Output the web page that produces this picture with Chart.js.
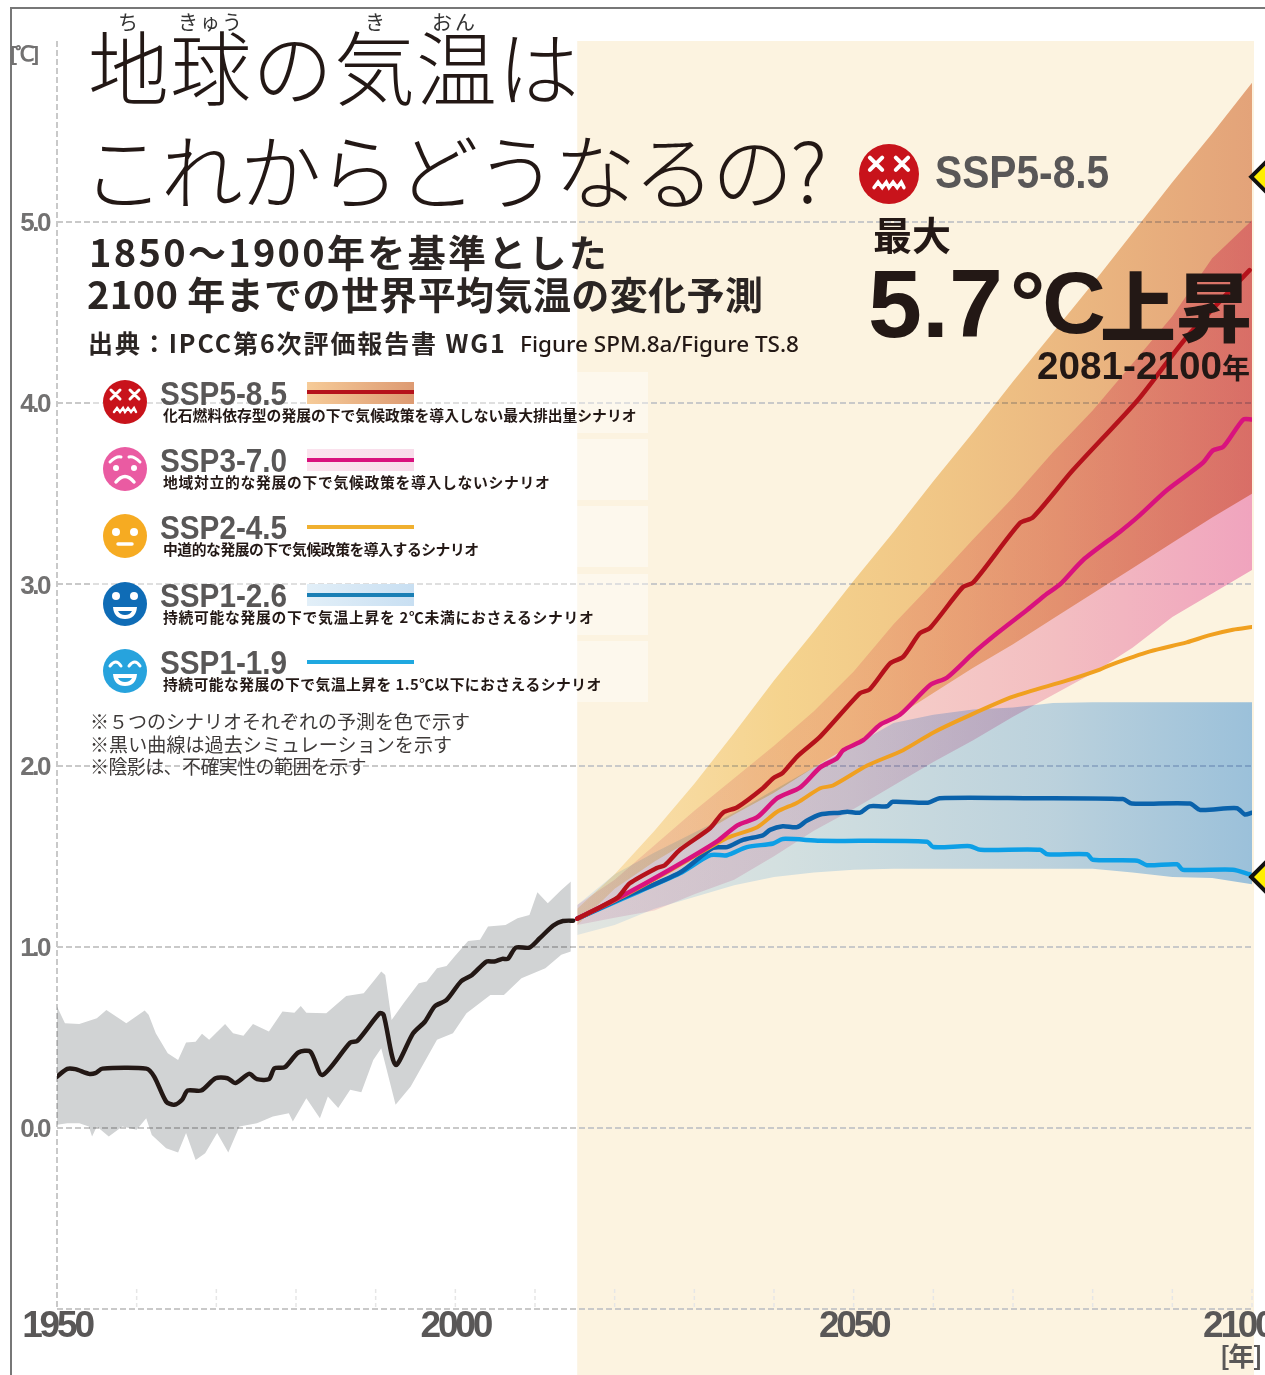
<!DOCTYPE html>
<html lang="ja">
<head>
<meta charset="utf-8">
<title>地球の気温はこれからどうなるの?</title>
<script src="https://cdn.jsdelivr.net/npm/chart.js@4/dist/chart.umd.min.js"></script>
<style>
html,body{margin:0;padding:0;background:#fff;width:1265px;height:1375px;overflow:hidden}
#wrap{position:relative;width:1265px;height:1375px;overflow:hidden}
canvas{position:absolute;left:0;top:0}
#frameT{position:absolute;left:10px;top:7px;width:1255px;height:2px;background:#777}
#frameL{position:absolute;left:10px;top:7px;width:2px;height:1368px;background:#777}
.t{position:absolute;white-space:nowrap;line-height:1;font-family:"Noto Sans CJK JP","Noto Sans",sans-serif;color:#231815}
.n{font-family:"Liberation Sans",sans-serif;font-weight:700;color:#595757;transform-origin:left center}
.panel{position:absolute;left:90px;width:558px;height:61px;background:rgba(255,255,255,.42)}
.swatch{position:absolute;left:307px;width:107px}
.ico{position:absolute}
</style>
</head>
<body>
<div id="wrap">
<canvas id="c" width="1265" height="1375"></canvas>
<div id="frameT"></div><div id="frameL"></div>
<div id="overlay"></div>
</div>
<script>
// ---- axes ----
const yMin = -1, yMax = 6, yStep = 1;
const xMin = 1950, xMax = 2100;
const xTickValues = [1950, 2000, 2050, 2100];
const xMinorTicks = [1960,1970,1980,1990,2000,2010,2020,2030,2040,2050,2060,2070,2080,2090,2100];
const futureStart = 2015.3;

// ---- historical simulation ----
const histYears = [1950,1951.3,1952.3,1954,1954.8,1955.7,1961.2,1962.2,1963.7,1964.7,1965.7,1966.4,1968.1,1969.9,1971.4,1972.4,1974.1,1975.1,1976.6,1977.3,1978.6,1980.3,1981.8,1983.3,1986.8,1987.7,1990.5,1991,1992.5,1994.7,1996.2,1997.4,1998.9,2000.7,2002.1,2003.9,2004.9,2005.9,2006.6,2007.6,2009.3,2010.6,2012.3,2013.5,2014.8];
const histValues = [.283,.326,.324,.298,.302,.327,.327,.283,.145,.127,.155,.206,.206,.274,.274,.247,.298,.269,.269,.329,.335,.416,.421,.292,.471,.48,.633,.624,.348,.522,.587,.67,.706,.808,.844,.918,.918,.933,.933,.995,.995,1.047,1.117,1.142,1.144];
const histUpperYears = [1950,1951,1952.8,1955,1956.2,1958.7,1961,1961.5,1962.4,1963.9,1965.2,1966.2,1967.4,1968.2,1969.1,1971.1,1972.1,1973.4,1974.6,1976.6,1978.3,1979.8,1980.6,1981.3,1983.8,1986.3,1988.5,1989.7,1990.7,1991.2,1992,1993.5,1995.4,1996.4,1997.7,1998.9,1999.9,2001.6,2003.1,2004.1,2006.3,2007.8,2009.3,2010.3,2011.6,2013.3,2014.5];
const histUpper = [.67,.578,.574,.605,.651,.578,.648,.624,.522,.412,.375,.471,.476,.519,.486,.574,.522,.508,.574,.532,.642,.636,.673,.636,.633,.728,.743,.808,.863,.844,.596,.688,.798,.808,.881,.894,.946,1.032,1.038,1.111,1.12,1.157,1.175,1.30,1.24,1.313,1.36];
const histLowerYears = [1950,1951.3,1952.8,1954,1954.4,1955,1956.5,1958.2,1960,1961.2,1961.9,1963.7,1965.2,1966.2,1967.4,1968.6,1970.1,1971.5,1972.9,1975.1,1977.1,1979.1,1979.6,1981.3,1983,1984,1985.3,1986.8,1988.2,1989.7,1990.7,1992.5,1994.4,1997.7,1999.7,2001.4,2004.4,2006.1,2008.3,2011.3,2013.3,2014.5];
const histLower = [.017,.026,.026,.007,-.048,.007,-.048,.007,-.011,.053,-.039,-.112,-.136,-.029,-.177,-.14,-.029,-.136,.007,.026,.063,.081,.035,.164,.053,.173,.109,.21,.197,.375,.44,.127,.228,.486,.522,.633,.734,.734,.826,.881,.955,.973];

// ---- scenario bands ----
const bandYears = [2015.3,2020,2025,2030,2035,2040,2045,2050,2055,2060,2065,2070,2075,2080,2085,2090,2095,2100];
const ssp585Upper = [1.21,1.40,1.64,1.90,2.18,2.47,2.74,3.02,3.29,3.57,3.84,4.12,4.39,4.66,4.94,5.22,5.49,5.77];
const ssp585Lower = [1.12,1.32,1.47,1.60,1.73,1.85,1.99,2.12,2.26,2.40,2.54,2.67,2.81,2.95,3.09,3.23,3.37,3.50];
const ssp370Upper = [1.23,1.37,1.56,1.75,1.93,2.11,2.30,2.52,2.78,3.01,3.25,3.48,3.73,3.96,4.22,4.48,4.80,5.01];
const ssp370Lower = [1.12,1.16,1.20,1.29,1.37,1.50,1.64,1.76,1.89,2.02,2.14,2.27,2.39,2.51,2.65,2.82,2.95,3.08];
const ssp126Upper = [1.23,1.40,1.52,1.63,1.74,1.865,1.99,2.11,2.235,2.28,2.31,2.32,2.345,2.35,2.35,2.35,2.35,2.35];
const ssp119Lower = [1.065,1.12,1.21,1.275,1.34,1.385,1.41,1.425,1.43,1.43,1.43,1.43,1.43,1.43,1.41,1.385,1.38,1.345];

// ---- scenario median lines ----
const ssp585Years = [2015.3,2020.3,2021.9,2025.3,2026.3,2028.2,2032,2033.6,2035.4,2038.6,2039.9,2041.1,2042.9,2045.8,2050.8,2052,2054.6,2056.2,2058.3,2059.6,2063.7,2065,2070.9,2072.5,2077.5,2085.7,2091.8,2099.7];
const ssp585Values = [1.155,1.27,1.35,1.435,1.45,1.535,1.655,1.74,1.77,1.875,1.93,1.96,2.05,2.16,2.40,2.42,2.565,2.60,2.73,2.76,2.985,3.01,3.34,3.37,3.63,4.02,4.365,4.735];
const ssp370Years = [2015.3,2020.7,2026.9,2032.8,2035.4,2037.9,2040.4,2043.3,2045.8,2047.9,2048.7,2051.2,2053.3,2055.8,2059.6,2061.7,2065,2068,2071.8,2074.3,2075.9,2078.8,2083.4,2085.6,2089.3,2093.8,2095.1,2096.4,2098.9,2100];
const ssp370Values = [1.155,1.275,1.425,1.58,1.67,1.715,1.82,1.88,1.99,2.04,2.085,2.14,2.225,2.28,2.445,2.485,2.62,2.73,2.86,2.95,3.00,3.135,3.29,3.37,3.52,3.67,3.74,3.76,3.91,3.91];
const ssp245Years = [2015.3,2020.7,2026.9,2034.1,2037.9,2040.4,2042.9,2045.8,2047.4,2051.7,2056.2,2059.9,2064.2,2070,2076.8,2080.9,2082.2,2087.2,2091.8,2094.7,2097.6,2100];
const ssp245Values = [1.155,1.27,1.42,1.60,1.66,1.745,1.795,1.875,1.89,2.00,2.085,2.18,2.27,2.38,2.47,2.53,2.555,2.63,2.68,2.72,2.75,2.765];
const ssp126Years = [2015.3,2020.7,2028.2,2032.3,2034.1,2036.1,2038.6,2039.5,2041.1,2042.9,2044.1,2045.8,2048.3,2049.2,2050.8,2052,2054.2,2054.9,2059.3,2060.8,2071.8,2083.8,2084.9,2092.2,2093.5,2098.1,2099.1,2100];
const ssp126Values = [1.155,1.265,1.41,1.545,1.55,1.59,1.615,1.645,1.665,1.66,1.695,1.73,1.74,1.745,1.74,1.775,1.775,1.80,1.795,1.82,1.82,1.815,1.79,1.79,1.755,1.765,1.73,1.74];
const ssp119Years = [2015.3,2020.7,2028.2,2032,2034.1,2036.6,2039.9,2041.1,2045.8,2059.2,2060,2064.6,2065.9,2073.4,2074.3,2079.3,2080,2085.6,2086.8,2090.6,2091.3,2097.6,2099.7];
const ssp119Values = [1.155,1.26,1.405,1.505,1.505,1.55,1.57,1.595,1.585,1.58,1.55,1.555,1.535,1.535,1.51,1.51,1.48,1.475,1.45,1.455,1.425,1.425,1.40];

// ---- annotation arrows (clipped by the page edge) ----
const arrowYears = [2102.4, 2102.4];
const arrowValues = [5.25, 1.385];

const pts = (xs, ys) => xs.map((x, i) => ({x, y: ys[i]}));
const grad = (stops) => (ctx) => {
  const c = ctx.chart, s = c.scales && c.scales.x;
  const a = s ? s.getPixelForValue(futureStart) : NaN, b = s ? s.getPixelForValue(xMax) : NaN;
  if (!Number.isFinite(a) || !Number.isFinite(b)) return 'rgba(0,0,0,0)';
  const g = c.ctx.createLinearGradient(a, 0, b, 0);
  stops.forEach(([p, col]) => g.addColorStop(p, col));
  return g;
};
const lineDs = (label, xs, ys, color, w) => ({label, data: pts(xs, ys), borderColor: color, borderWidth: w,
  pointRadius: 0, tension: .25, fill: false, borderCapStyle: 'round', borderJoinStyle: 'round'});
const bandDs = (label, xs, ys, bg) => ({label, data: pts(xs, ys), borderWidth: 0, borderColor: 'rgba(0,0,0,0)',
  pointRadius: 0, tension: 0, fill: '+1', backgroundColor: bg, isBand: true});
const edgeDs = (label, xs, ys) => ({label, data: pts(xs, ys), borderWidth: 0, borderColor: 'rgba(0,0,0,0)',
  pointRadius: 0, tension: 0, fill: false, isBand: true});

const datasets = [
  {label:'arrows', data: pts(arrowYears, arrowValues), showLine:false, pointStyle:'rectRot', pointRadius:20,
   pointBackgroundColor:'#ffef00', pointBorderColor:'#111', pointBorderWidth:4, clip:false},
  lineDs('SSP5-8.5', ssp585Years, ssp585Values, '#b5121b', 4.5),
  lineDs('SSP3-7.0', ssp370Years, ssp370Values, '#d9127e', 4.5),
  lineDs('SSP2-4.5', ssp245Years, ssp245Values, '#f0a020', 4),
  lineDs('SSP1-2.6', ssp126Years, ssp126Values, '#0a62ab', 4.5),
  lineDs('SSP1-1.9', ssp119Years, ssp119Values, '#0d9fe6', 4.5),
  lineDs('過去シミュレーション', histYears, histValues, '#231815', 4.5),
  bandDs('SSP5-8.5 上限', bandYears, ssp585Upper, grad([[0,'#fdeccb'],[.3,'#f8dea2'],[.55,'#f3cf98'],[1,'#e6ab8a']])),
  edgeDs('SSP5-8.5 下限', bandYears, ssp585Lower),
  bandDs('SSP3-7.0 上限', bandYears, ssp370Upper, grad([[0,'#f6e2ee'],[.4,'#f9dbe6'],[.7,'#f6c8dc'],[1,'#f3acd8']])),
  edgeDs('SSP3-7.0 下限', bandYears, ssp370Lower),
  bandDs('SSP1 上限', bandYears, ssp126Upper, grad([[0,'#e4f0ff'],[.3,'#d6ebff'],[.7,'#bedcfb'],[1,'#9dcaf8']])),
  edgeDs('SSP1 下限', bandYears, ssp119Lower),
  bandDs('過去 上限', histUpperYears, histUpper, '#d1d3d4'),
  edgeDs('過去 下限', histLowerYears, histLower)
];

const dashColor = '#c9c9c9';
const stagePlugin = {
  id: 'stage',
  beforeDraw(chart) {
    const {ctx, scales: {x, y}} = chart;
    ctx.save();
    ctx.fillStyle = '#fcf3e0';
    const l = x.getPixelForValue(futureStart), r = x.getPixelForValue(xMax) + 2;
    ctx.fillRect(l, y.getPixelForValue(yMax), r - l, chart.height - y.getPixelForValue(yMax));
    ctx.restore();
  },
  beforeDatasetsDraw(chart) {
    const {ctx, scales: {x, y}} = chart;
    ctx.save();
    ctx.strokeStyle = '#e6e6e6'; ctx.lineWidth = 1.5; ctx.setLineDash([4, 3]);
    const top = y.getPixelForValue(yMin) - 20, bot = y.getPixelForValue(yMin) - 2;
    xMinorTicks.forEach(v => { const p = x.getPixelForValue(v); ctx.beginPath(); ctx.moveTo(p, top); ctx.lineTo(p, bot); ctx.stroke(); });
    ctx.restore();
  },
  beforeDatasetDraw(chart, args) {
    if (chart.data.datasets[args.index].isBand) { chart.ctx.save(); chart.ctx.globalCompositeOperation = 'multiply'; }
  },
  afterDatasetDraw(chart, args) {
    if (chart.data.datasets[args.index].isBand) chart.ctx.restore();
  }
};
Chart.unregister(Chart.Filler);
Chart.register(stagePlugin);
Chart.register(Chart.Filler);

// tighter tick labels: no condensed face is installed
const tighten = (s, px) => {
  if (s._tight) return;
  s._tight = true;
  const draw = s.drawLabels;
  s.drawLabels = function (area) { this.ctx.letterSpacing = px; draw.call(this, area); this.ctx.letterSpacing = '0px'; };
};

new Chart(document.getElementById('c'), {
  type: 'line',
  data: {datasets},
  options: {
    responsive: false, animation: false, events: [],
    layout: {autoPadding: false, padding: {left: 0, right: 13, top: 41, bottom: 0}},
    plugins: {legend: {display: false}, tooltip: {enabled: false}, filler: {propagate: false}},
    scales: {
      x: {type: 'linear', min: xMin, max: xMax,
        afterBuildTicks(s) { s.ticks = xTickValues.map(value => ({value})); },
        afterFit(s) { s.height = 66; s.paddingLeft = 0; s.paddingRight = 0; tighten(s, '-3.2px'); },
        grid: {drawTicks: false, lineWidth: 2, color: c => c.tick && c.tick.value === xMin ? dashColor : 'rgba(0,0,0,0)'},
        border: {display: false, dash: [6, 3]},
        ticks: {autoSkip: false, maxRotation: 0, padding: -4, color: '#595757',
          font: {family: '"Liberation Sans",sans-serif', weight: 'bold', size: 37},
          callback: v => v === 2100 ? '2100    ' : String(v)}},
      y: {min: yMin, max: yMax,
        afterFit(s) { s.width = 57; s.paddingTop = 0; s.paddingBottom = 0; tighten(s, '-2.5px'); },
        border: {display: false, dash: [6, 3]},
        grid: {drawTicks: false, lineWidth: 2, color: c => c.tick.value === yMax ? 'rgba(0,0,0,0)' : dashColor},
        ticks: {stepSize: yStep, padding: 8, labelOffset: 2, color: '#727171',
          font: {family: '"Liberation Sans",sans-serif', weight: 'bold', size: 26},
          callback: v => (v === yMin || v === yMax) ? '' : v.toFixed(1)}}
    },
    elements: {line: {borderWidth: 0}}
  }
});

// ---- text and legend overlay ----
const face = (cx, cy, r, color, kind) => {
  let inner = '';
  const w = 'stroke="#fff" fill="none" stroke-linecap="round"';
  if (kind === 'x') inner = `<path d="M-14 -12l9 9M-5 -12l-9 9M5 -12l9 9M14 -12l-9 9" ${w} stroke-width="3"/><path d="M-11 10l3-4 3 4 3-4 2 4 3-4 3 4 3-4 2 4" ${w} stroke-width="2.5"/>`;
  if (kind === 'sad') inner = `<path d="M-15 -7q6-6 11-5M15 -7q-6-6-11-5" ${w} stroke-width="3"/><circle cx="-9" cy="-1" r="3" fill="#fff"/><circle cx="9" cy="-1" r="3" fill="#fff"/><path d="M-9 13q9-11 18 0" ${w} stroke-width="3.5"/>`;
  if (kind === 'flat') inner = `<circle cx="-9" cy="-4" r="4" fill="#fff"/><circle cx="9" cy="-4" r="4" fill="#fff"/><path d="M-7 8h14" ${w} stroke-width="3.5"/>`;
  if (kind === 'smile') inner = `<circle cx="-9" cy="-8" r="4" fill="#fff"/><circle cx="9" cy="-8" r="4" fill="#fff"/><path d="M-12 3h24q-1 12-12 12t-12-12z" fill="#fff"/><path d="M-7 7h14q-2 4-7 4t-7-4z" fill="${color}"/>`;
  if (kind === 'joy') inner = `<path d="M-15 -5q6-8 11 0M4 -5q6-8 11 0" ${w} stroke-width="3"/><path d="M-12 3h24q-1 12-12 12t-12-12z" fill="#fff"/><path d="M-7 7h14q-2 4-7 4t-7-4z" fill="${color}"/>`;
  return `<svg class="ico" style="left:${cx - r}px;top:${cy - r}px" width="${2 * r}" height="${2 * r}" viewBox="-22 -22 44 44"><circle r="22" fill="${color}"/>${inner}</svg>`;
};
const T = (x, cy, size, text, style = '', cls = '') =>
  `<div class="t ${cls}" style="left:${x}px;top:${cy - size / 2}px;font-size:${size}px;${style}">${text}</div>`;

const legendNames = ['SSP5-8.5', 'SSP3-7.0', 'SSP2-4.5', 'SSP1-2.6', 'SSP1-1.9'];
const legendNotes = ['化石燃料依存型の発展の下で気候政策を導入しない最大排出量シナリオ', '地域対立的な発展の下で気候政策を導入しないシナリオ', '中道的な発展の下で気候政策を導入するシナリオ', '持続可能な発展の下で気温上昇を 2℃未満におさえるシナリオ', '持続可能な発展の下で気温上昇を 1.5℃以下におさえるシナリオ'];
const legendNoteSpacing = [0, .7, -.45, .7, .45];
const legendFaces = [['#c8131b', 'x'], ['#ea5ba2', 'sad'], ['#f6ab22', 'flat'], ['#0f6cb6', 'smile'], ['#27a3dd', 'joy']];
const legendLine = ['#b5121b', '#d9127e', '#f0b030', '#1a7fb5', '#1fa8e0'];
const legendBand = ['linear-gradient(90deg,#f6cb98,#dd9a72)', 'linear-gradient(90deg,#fbe3ee,#f8dcea)', '', 'linear-gradient(90deg,#e2eff8,#c8dff2)', ''];
const rowY = [393, 460, 527, 595, 662];

let html = '';
html += T(118, 22, 20, 'ち', 'font-weight:400;color:#333');
html += T(178, 22, 20, 'きゅう', 'font-weight:400;color:#333;letter-spacing:2px');
html += T(365, 22, 20, 'き', 'font-weight:400;color:#333');
html += T(432, 22, 20, 'おん', 'font-weight:400;color:#333;letter-spacing:3px');
html += T(88, 63, 81, '地球の気温は', 'font-weight:300;letter-spacing:1px');
html += T(82, 168, 82, 'これからどうなるの?', 'font-weight:300;letter-spacing:-3.3px');
html += T(89, 251, 38, '1850～1900年を基準とした', 'font-weight:700;letter-spacing:2.3px;color:#2b2523');
html += T(87, 293, 38, '2100 年までの世界平均気温の変化予測', 'font-weight:700;letter-spacing:.4px;color:#2b2523');
html += T(88, 342, 25, '出典：IPCC第6次評価報告書 WG1', 'font-weight:700;letter-spacing:1.9px;color:#2b2523');
html += T(520, 344, 22.5, 'Figure SPM.8a/Figure TS.8', 'font-family:\'Noto Sans\',sans-serif;font-weight:500');
html += T(10, 53, 21, '[℃]', 'font-family:\'Liberation Sans\',sans-serif;font-weight:700;color:#727171;letter-spacing:-2px');
html += T(1220, 1355, 26, '[年]', 'font-weight:700;color:#595757;letter-spacing:-1.5px');

[372, 439, 506, 574, 641].forEach(y => { html += `<div class="panel" style="top:${y}px"></div>`; });
legendNames.forEach((n, i) => {
  const y = rowY[i];
  html += face(125, y + 9, 22, legendFaces[i][0], legendFaces[i][1]);
  html += T(160, y, 33, n, 'transform:scaleX(.9)', 'n');
  if (legendBand[i]) html += `<div class="swatch" style="top:${y - 11}px;height:22px;background:${legendBand[i]}"></div>`;
  html += `<div class="swatch" style="top:${y - 2 - (i === 0 ? 1 : 0)}px;height:4px;background:${legendLine[i]}"></div>`;
  html += T(163, y + 22, 14.8, legendNotes[i], `font-weight:700;color:#231815;letter-spacing:${legendNoteSpacing[i]}px`);
});
html += T(90, 720, 19, '※５つのシナリオそれぞれの予測を色で示す', 'color:#3e3a39');
html += T(90, 743, 19, '※黒い曲線は過去シミュレーションを示す', 'color:#3e3a39;letter-spacing:.1px');
html += T(90, 765, 19, '※陰影は、不確実性の範囲を示す', 'color:#3e3a39;letter-spacing:-.6px');

html += face(889, 174, 30, '#c8131b', 'x');
html += T(935, 172, 46, 'SSP5-8.5', 'transform:scaleX(.885)', 'n');
html += T(873, 233, 39, '最大', 'font-weight:700');
html += T(868, 303, 97, '5.7', 'font-family:\'Liberation Sans\',sans-serif;font-weight:700');
html += T(1010, 303, 88, '°C', 'font-family:\'Liberation Sans\',sans-serif;font-weight:700;letter-spacing:-3px');
html += T(1100, 303, 76, '上昇', 'font-weight:900');
html += T(1037, 366, 38.7, '2081-2100', 'font-family:\'Liberation Sans\',sans-serif;font-weight:700');
html += T(1222, 367, 28, '年', 'font-weight:700');
document.getElementById('overlay').innerHTML = html;
</script>
</body>
</html>
